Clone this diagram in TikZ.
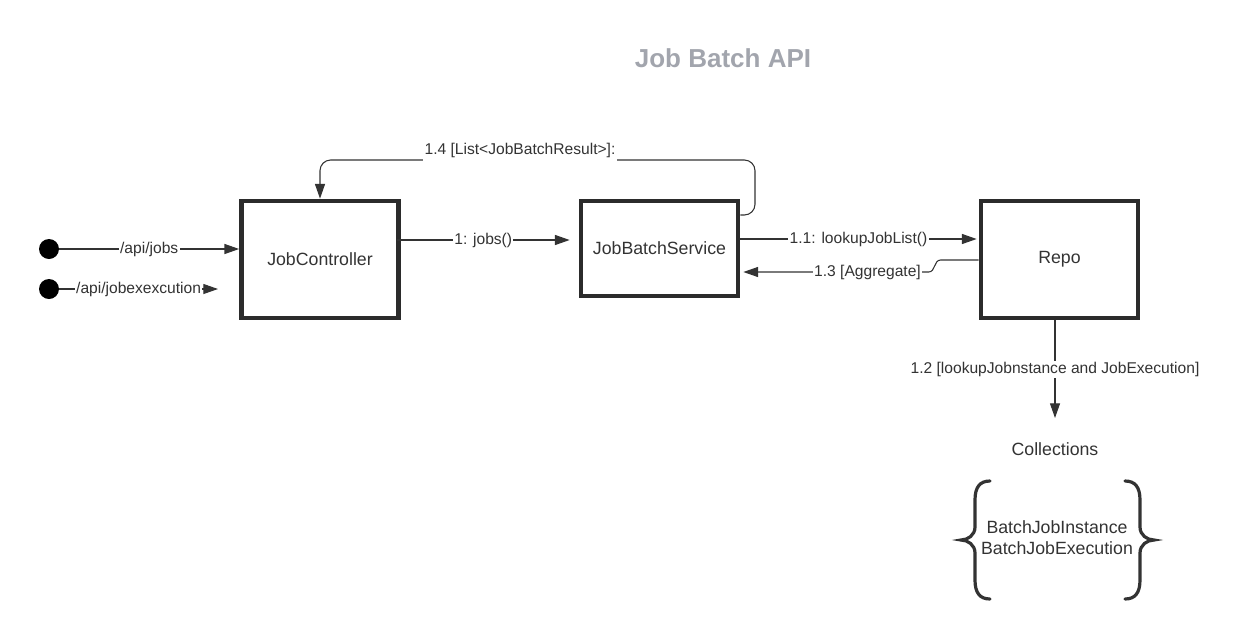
\documentclass[tikz,border=0pt]{standalone}
\usepackage{fontspec}
\setmainfont{Liberation Sans}
\usetikzlibrary{arrows.meta,calc}
\definecolor{ink}{HTML}{333333}
\definecolor{titlegray}{HTML}{A2A5AD}
\begin{document}
\begin{tikzpicture}[x=0.75pt,y=-0.75pt]
\tikzstyle{every node}+=[text=ink]
\tikzstyle{big}=[font=\fontsize{13.3}{15.75}\selectfont]
\tikzstyle{box}=[big, draw=ink!85!black, line width=3.3pt, minimum width=118pt]
\tikzstyle{msg}=[draw=ink, line width=0.8pt, -{Triangle[length=11pt,width=7.5pt]}]
\tikzstyle{lbl}=[fill=white, inner sep=1pt, font=\fontsize{11.7}{14}\selectfont]
\tikzstyle{start}=[circle, fill=black, minimum size=15pt, inner sep=0pt]
\tikzstyle{brace}=[draw=ink, line width=2.4pt, line cap=round]
\useasboundingbox (0,0) rectangle (1239,640);
% title
\node[font=\bfseries\fontsize{19.5}{22}\selectfont, text=titlegray] (title) at (723,58) {Job Batch API};
% boxes
\node[box, minimum height=88pt] (ctrl) at (320,259.5) {JobController};
\node[box, minimum height=71pt] (svc) at (659.5,248.5) {JobBatchService};
\node[box, minimum height=88pt] (repo) at (1059.5,259.5) {Repo};
% entry points
\node[start] (s1) at (49,249) {};
\node[start] (s2) at (49,289) {};
\coordinate (e2) at (218,289);
\draw[msg] (s1) -- node[lbl] {/api/jobs} (s1 -| ctrl.west);
\draw[msg] (s2) -- node[lbl] {/api/jobexexcution} (e2);
% calls
\draw[msg] ($(ctrl.east)+(-4,-19.5)$) -- node[lbl] {1: jobs()} ($(svc.west)+(-9,-8.5)$);
\draw[msg] ($(svc.east)+(0,-9.5)$) -- node[lbl] {1.1: lookupJobList()} ($(repo.west)+(-2,-20.5)$);
\coordinate (r3) at ($(repo.west)+(0,0.5)$);
\draw[msg] (r3) -- ($(r3)+(-38,0)$) .. controls ($(r3)+(-45,0)$) and ($(r3)+(-43,12)$) .. ($(r3)+(-50,12)$)
  -- node[lbl, pos=0.33] {1.3 [Aggregate]} ($(svc.east)+(3,23.5)$);
\draw[msg, rounded corners=8pt] ($(svc.east)+(0,-33.5)$) -| (755,160) -| (ctrl.north);
\node[lbl, inner ysep=4pt] (l14) at (520,150) {1.4 [List<JobBatchResult>]:};
\coordinate (c2) at (1055,418);
\draw[msg] (repo.south -| c2) -- node[lbl] {1.2 [lookupJobnstance and JobExecution]} (c2);
% collections
\node[big] (coll) at (1055,449) {Collections};
\node[big, align=center] (items) at (1057,538) {BatchJobInstance\\BatchJobExecution};
\draw[brace] (990,481) .. controls (980,481) and (975,487) .. (975,500) -- (975,527)
  .. controls (975,535) and (968,540) .. (961,540) .. controls (968,540) and (975,545) .. (975,553)
  -- (975,580) .. controls (975,593) and (980,599) .. (990,599);
\draw[brace] (1125,481) .. controls (1135,481) and (1140,487) .. (1140,500) -- (1140,527)
  .. controls (1140,535) and (1147,540) .. (1154,540) .. controls (1147,540) and (1140,545) .. (1140,553)
  -- (1140,580) .. controls (1140,593) and (1135,599) .. (1125,599);
\end{tikzpicture}
\end{document}
